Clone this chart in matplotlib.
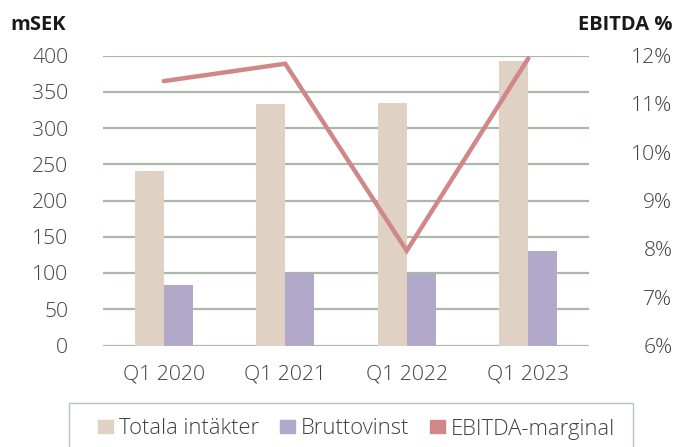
import matplotlib
matplotlib.use("Agg")
import matplotlib.pyplot as plt
from matplotlib.patches import Rectangle, Patch
import numpy as np

categories = ["Q1 2020", "Q1 2021", "Q1 2022", "Q1 2023"]
totala = [241, 333, 334, 393]
brutto = [83, 100, 99, 130]
ebitda = [11.47, 11.83, 7.96, 11.94]
left_ticks = [0, 50, 100, 150, 200, 250, 300, 350, 400]
right_ticks = [6, 7, 8, 9, 10, 11, 12]

c_tot = "#DFD1C4"
c_bru = "#B1A8CA"
c_line = "#D08787"
c_grid = "#A9B8A9"
c_text = "#404040"

plt.rcParams['font.family'] = ['Open Sans', 'DejaVu Sans']

W, H = 677, 447
x0, x1, y0, y1 = 103, 589, 345.5, 55.5
fig = plt.figure(figsize=(6.77, 4.47), dpi=100)
ax = fig.add_axes([x0/W, 1-y0/H, (x1-x0)/W, (y0-y1)/H])

x = np.arange(len(categories))
w = 0.24
ax.bar(x - w/2, totala, width=w, color=c_tot, zorder=2)
ax.bar(x + w/2, brutto, width=w, color=c_bru, zorder=2)
ax.set_xlim(-0.5, len(categories) - 0.5)
ax.set_ylim(0, 400)
ax.set_yticks(left_ticks)
ax.yaxis.grid(True, color=c_grid, linewidth=1.6, zorder=0)
ax.set_axisbelow(True)
for s in ax.spines.values():
    s.set_visible(False)
ax.tick_params(axis='both', length=0, labelsize=15.2, labelcolor=c_text)
ax.tick_params(axis='y', pad=25)
ax.tick_params(axis='x', pad=14)
ax.set_xticks(x)
ax.set_xticklabels(categories)
for lab in ax.get_yticklabels() + ax.get_xticklabels():
    lab.set_fontweight('light')

ax2 = ax.twinx()
ax2.plot(x, ebitda, color=c_line, linewidth=3.2, solid_capstyle='round',
         solid_joinstyle='miter', zorder=3)
ax2.set_ylim(6, 12)
ax2.set_yticks(right_ticks)
ax2.set_yticklabels([f"{t}%" for t in right_ticks])
for s in ax2.spines.values():
    s.set_visible(False)
ax2.tick_params(axis='y', length=0, labelsize=15.2, labelcolor=c_text, pad=60)
for lab in ax2.get_yticklabels():
    lab.set_fontweight('light')
    lab.set_horizontalalignment('right')

fig.text(10/W, 1-25/H, "mSEK", fontsize=14.5, fontweight='bold', color="#1a1a1a", va='center', ha='left')
fig.text(672/W, 1-25/H, "EBITDA %", fontsize=14.5, fontweight='bold', color="#1a1a1a", va='center', ha='right')

# legend frame
fig.patches.append(Rectangle((69/W, -0.05), (633-69)/W, 1-403/H+0.05,
                             transform=fig.transFigure, fill=False,
                             edgecolor="#B8C4C4", linewidth=1.0))
handles = [Patch(color=c_tot), Patch(color=c_bru), Patch(color=c_line)]
leg = fig.legend(handles, ["Totala intäkter", "Bruttovinst", "EBITDA-marginal"],
                 loc='center left', bbox_to_anchor=(87/W, 1-429/H), ncol=3,
                 frameon=False, fontsize=15.8, handlelength=0.68, handleheight=0.5,
                 handletextpad=0.27, columnspacing=0.95, borderpad=0)
for t in leg.get_texts():
    t.set_color(c_text)
    t.set_fontweight('light')

fig.savefig("out.png", dpi=100)
